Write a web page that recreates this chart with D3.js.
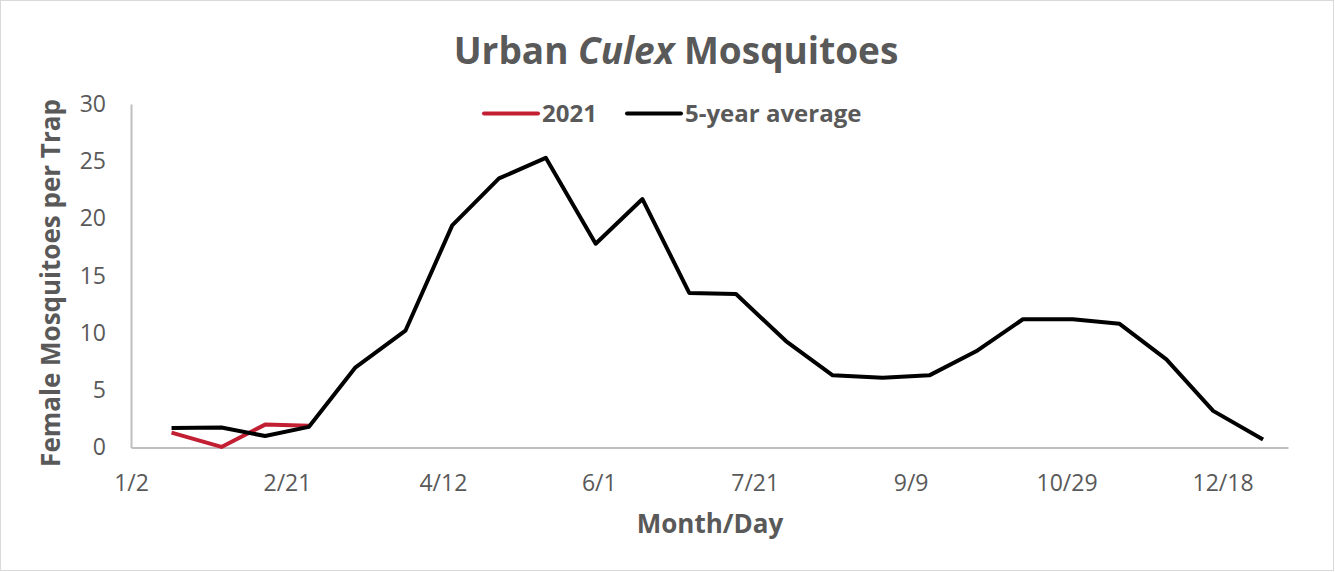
<!DOCTYPE html>
<html lang="en">
<head>
    <meta charset="UTF-8">
    <script src="https://cdn.jsdelivr.net/npm/d3@7"></script>
    <style>
        body { margin: 0; background: #fff; }
        text { font-family: "Open Sans", sans-serif; fill: #595959; }
    </style>
    <title>Urban Culex Mosquitoes</title>
</head>
<body>
    <svg height="572" width="1335"></svg>
    <script>
        // sampling dates (semi-monthly) and values
        var dates = ["2021-01-15","2021-01-31","2021-02-14","2021-02-28","2021-03-15","2021-03-31",
                     "2021-04-15","2021-04-30","2021-05-15","2021-05-31","2021-06-15","2021-06-30",
                     "2021-07-15","2021-07-31","2021-08-15","2021-08-31","2021-09-15","2021-09-30",
                     "2021-10-15","2021-10-31","2021-11-15","2021-11-30","2021-12-15","2021-12-31"];
        var avg5 = [1.7, 1.75, 1.0, 1.8, 7.0, 10.2, 19.4, 23.5, 25.3, 17.8, 21.7, 13.5,
                    13.4, 9.3, 6.3, 6.1, 6.3, 8.4, 11.2, 11.2, 10.8, 7.7, 3.2, 0.7];
        var y2021 = [1.3, 0.05, 2.0, 1.9];
        var xTicks = ["2021-01-02","2021-02-21","2021-04-12","2021-06-01","2021-07-21","2021-09-09","2021-10-29","2021-12-18"];
        var yTicks = [0, 5, 10, 15, 20, 25, 30];

        var parse = d3.timeParse("%Y-%m-%d");
        var svg = d3.select("svg");

        // chart border
        svg.append("rect")
            .attr("x", 0.5).attr("y", 0.5)
            .attr("width", 1333).attr("height", 570)
            .attr("fill", "none").attr("stroke", "#d9d9d9");

        var xScale = d3.scaleTime()
            .domain([parse("2021-01-02"), parse("2022-01-08")])
            .range([131, 1288]);
        var yScale = d3.scaleLinear().domain([0, 30]).range([447.5, 104]);

        // axes
        var xAxis = svg.append("g")
            .attr("transform", "translate(0,447.5)")
            .call(d3.axisBottom(xScale)
                .tickValues(xTicks.map(parse))
                .tickSize(0).tickPadding(27)
                .tickFormat(d3.timeFormat("%-m/%-d")));
        xAxis.select(".domain").attr("stroke", "#bfbfbf").attr("stroke-width", 2);
        xAxis.selectAll("text").attr("font-size", "23px").attr("fill", "#595959")
            .attr("font-family", "Open Sans");

        var yAxis = svg.append("g")
            .attr("transform", "translate(131,0)")
            .call(d3.axisLeft(yScale).tickValues(yTicks).tickSize(0).tickPadding(25));
        yAxis.select(".domain").attr("stroke", "#bfbfbf").attr("stroke-width", 2);
        yAxis.selectAll("text").attr("font-size", "23px").attr("fill", "#595959")
            .attr("font-family", "Open Sans");

        // lines
        var line = d3.line()
            .x(function(d, i){ return xScale(parse(dates[i])); })
            .y(function(d){ return yScale(d); });

        svg.append("path").datum(y2021)
            .attr("fill", "none").attr("stroke", "#C21F32")
            .attr("stroke-width", 4).attr("stroke-linejoin", "round")
            .attr("d", line);
        svg.append("path").datum(avg5)
            .attr("fill", "none").attr("stroke", "#000")
            .attr("stroke-width", 4).attr("stroke-linejoin", "round")
            .attr("d", line);

        // title
        var title = svg.append("text")
            .attr("x", 676).attr("y", 64)
            .attr("text-anchor", "middle")
            .attr("font-size", "37px").attr("font-weight", "bold");
        title.append("tspan").text("Urban ");
        title.append("tspan").attr("font-style", "italic").text("Culex");
        title.append("tspan").text(" Mosquitoes");

        // legend
        var legend = [
            {name: "2021", color: "#C21F32", x: 484},
            {name: "5-year average", color: "#000", x: 627}
        ];
        var lg = svg.selectAll(".legend").data(legend).enter().append("g");
        lg.append("line")
            .attr("x1", function(d){ return d.x; })
            .attr("x2", function(d){ return d.x + 54; })
            .attr("y1", 113.5).attr("y2", 113.5)
            .attr("stroke", function(d){ return d.color; })
            .attr("stroke-width", 4).attr("stroke-linecap", "round");
        lg.append("text")
            .attr("x", function(d){ return d.x + 58; })
            .attr("y", 121.5)
            .attr("font-size", "24px").attr("font-weight", "bold")
            .text(function(d){ return d.name; });

        // axis titles
        svg.append("text")
            .attr("x", 710).attr("y", 533)
            .attr("text-anchor", "middle")
            .attr("font-size", "26px").attr("font-weight", "bold")
            .text("Month/Day");
        svg.append("text")
            .attr("transform", "translate(60,283) rotate(-90)")
            .attr("text-anchor", "middle")
            .attr("font-size", "26px").attr("font-weight", "bold")
            .text("Female Mosquitoes per Trap");
    </script>
</body>
</html>
